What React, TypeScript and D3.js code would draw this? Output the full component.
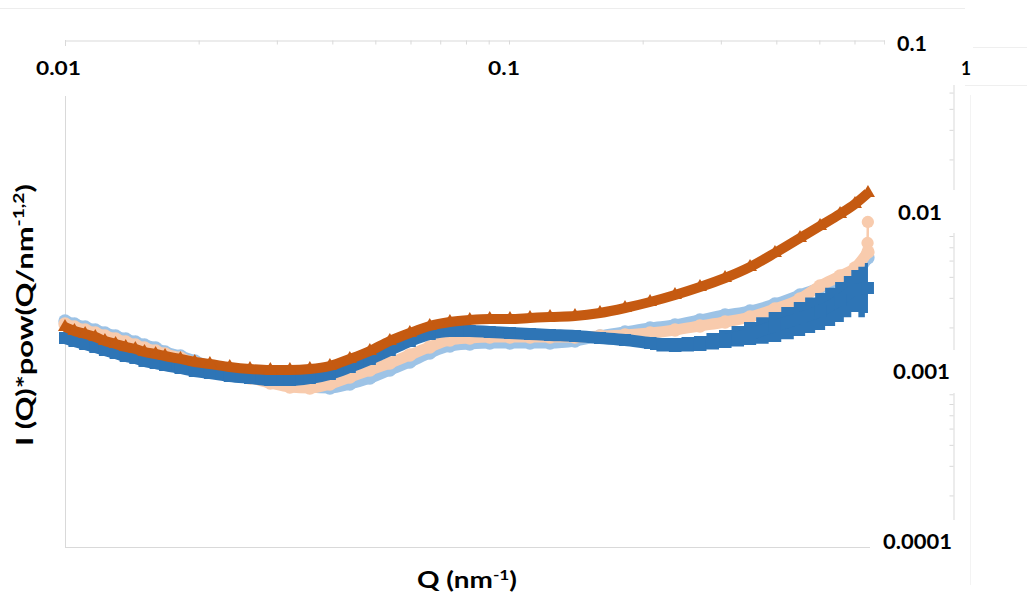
import React, { useEffect, useRef } from 'react';
import * as d3 from 'd3';

// scattering vector Q (nm^-1), shared by the four curves
const qValues = [
  0.0100, 0.0105, 0.0111, 0.0117, 0.0123, 0.0130, 0.0137, 0.0144, 0.0151, 0.0160,
  0.0168, 0.0182, 0.0196, 0.0212, 0.0235, 0.0261, 0.0290, 0.0321, 0.0356, 0.0395,
  0.0438, 0.0486, 0.0539, 0.0598, 0.0663, 0.0736, 0.0816, 0.0905, 0.1005, 0.1115,
  0.1237, 0.1408, 0.1603, 0.1825, 0.2078, 0.2365, 0.2692, 0.3066, 0.3490, 0.3972,
  0.4523, 0.5018, 0.5567, 0.6015, 0.6434,
];

// I(Q)*Q^2 per sample
const orangeValues = [
  0.002012, 0.001905, 0.001828, 0.001754, 0.001661, 0.001594, 0.001530, 0.001488, 0.001428, 0.001390,
  0.001352, 0.001298, 0.001245, 0.001212, 0.001163, 0.001131, 0.001116, 0.001116, 0.001131, 0.001179,
  0.001298, 0.001448, 0.001661, 0.001853, 0.002040, 0.002155, 0.002215, 0.002245, 0.002245, 0.002276,
  0.002308, 0.002339, 0.002438, 0.002610, 0.002834, 0.003120, 0.003480, 0.003938, 0.004579, 0.005547,
  0.006813, 0.008030, 0.009466, 0.010857, 0.012623,
];
const blueValues = [
  0.001730, 0.001661, 0.001594, 0.001530, 0.001468, 0.001409, 0.001352, 0.001316, 0.001263, 0.001228,
  0.001195, 0.001147, 0.001101, 0.001071, 0.001028, 0.001000, 0.000973, 0.000973, 0.001000, 0.001056,
  0.001163, 0.001298, 0.001468, 0.001661, 0.001828, 0.001905, 0.001905, 0.001879, 0.001853, 0.001828,
  0.001803, 0.001779, 0.001730, 0.001684, 0.001616, 0.001572, 0.001594, 0.001684, 0.001828, 0.002040,
  0.002276, 0.002505, 0.002913, 0.003341, 0.003433,
];
const peachValues = [
  0.002097, 0.002012, 0.001931, 0.001853, 0.001779, 0.001707, 0.001638, 0.001572, 0.001509, 0.001448,
  0.001390, 0.001316, 0.001228, 0.001131, 0.001056, 0.001000, 0.000934, 0.000884, 0.000872, 0.000921,
  0.001014, 0.001116, 0.001228, 0.001371, 0.001530, 0.001684, 0.001730, 0.001754, 0.001754, 0.001754,
  0.001754, 0.001754, 0.001779, 0.001803, 0.001853, 0.001931, 0.002040, 0.002155, 0.002308, 0.002575,
  0.002953, 0.003528, 0.004047, 0.004516, 0.005624,
];
const lightBlueValues = [
  0.002185, 0.002097, 0.002012, 0.001931, 0.001853, 0.001779, 0.001707, 0.001638, 0.001572, 0.001509,
  0.001428, 0.001352, 0.001263, 0.001179, 0.001101, 0.001042, 0.000973, 0.000921, 0.000884, 0.000872,
  0.000921, 0.001000, 0.001116, 0.001245, 0.001409, 0.001551, 0.001594, 0.001616, 0.001616, 0.001616,
  0.001616, 0.001661, 0.001779, 0.001879, 0.001985, 0.002068, 0.002215, 0.002372, 0.002505, 0.002757,
  0.003120, 0.003450, 0.003850, 0.004150, 0.005200,
];

// noisy high-Q scatter of the blue sample
const blueSpreadQ = [
  0.2078, 0.2220, 0.2365, 0.2530, 0.2692, 0.2880, 0.3066, 0.3280, 0.3490, 0.3720,
  0.3972, 0.4240, 0.4523, 0.4770, 0.5018, 0.5290, 0.5567, 0.5790, 0.6015, 0.6230, 0.6434,
];
const blueSpreadHigh = [
  0.001754, 0.001730, 0.001730, 0.001754, 0.001779, 0.001853, 0.001931, 0.002040, 0.002155, 0.002300,
  0.002471, 0.002650, 0.002834, 0.003010, 0.003206, 0.003450, 0.003727, 0.004050, 0.004394, 0.004600, 0.004837,
];
const blueSpreadLow = [
  0.001468, 0.001440, 0.001428, 0.001440, 0.001448, 0.001480, 0.001509, 0.001540, 0.001572, 0.001600,
  0.001638, 0.001700, 0.001779, 0.001850, 0.001931, 0.002040, 0.002155, 0.002300, 0.002471, 0.002300, 0.002438,
];

// last points of the peach sample
const peachTailQ = [0.6434, 0.6420, 0.6430];
const peachTailValues = [0.005624, 0.006362, 0.008483];

const xTickLabels = [0.01, 0.1, 1];
const yTickLabels = [0.1, 0.01, 0.001, 0.0001];

const FONT = "Lato, 'Open Sans', sans-serif";

const App = () => {
  const ref = useRef<SVGSVGElement>(null);

  useEffect(() => {
    const svg = d3.select(ref.current);
    svg.selectAll('*').remove();

    const x = d3.scaleLog().domain([0.01, 1]).range([65, 953]);
    const y = d3.scaleLog().domain([0.0001, 0.1]).range([546, 42]);
    const grid = '#d9d9d9';

    // faint page frame pieces
    svg.append('line').attr('x1', 0).attr('x2', 965).attr('y1', 8.5).attr('y2', 8.5).attr('stroke', '#ededed');
    svg.append('line').attr('x1', 973).attr('x2', 1027).attr('y1', 47.5).attr('y2', 47.5).attr('stroke', '#efefef');
    svg.append('line').attr('x1', 965).attr('x2', 1027).attr('y1', 85.5).attr('y2', 85.5).attr('stroke', '#efefef');
    svg.append('line').attr('x1', 970.5).attr('x2', 970.5).attr('y1', 95).attr('y2', 585).attr('stroke', '#f3f3f3');

    // plot frame
    svg.append('line').attr('x1', 65.5).attr('x2', 65.5).attr('y1', 40).attr('y2', 547).attr('stroke', grid);
    svg.append('line').attr('x1', 65).attr('x2', 953).attr('y1', 547.5).attr('y2', 547.5).attr('stroke', grid);

    const top = svg.append('g')
      .attr('transform', 'translate(0,40.5)')
      .call(d3.axisTop(x).tickValues(x.ticks()).tickSize(-4).tickSizeOuter(0).tickFormat(() => ''));
    top.selectAll('path,line').attr('stroke', grid);

    const right = svg.append('g')
      .attr('transform', 'translate(953.5,0)')
      .call(d3.axisRight(y).tickValues(y.ticks()).tickSize(-4).tickSizeOuter(0).tickFormat(() => ''));
    right.selectAll('path,line').attr('stroke', grid);

    const lineFor = (qs: number[]) => d3.line<number>()
      .x((_, i) => x(qs[i]))
      .y(d => y(d))
      .curve(d3.curveMonotoneX);

    const series = [
      { values: lightBlueValues, color: '#9DC3E6', width: 11, symbol: d3.symbolCircle, size: 140 },
      { values: peachValues, color: '#F8CBAD', width: 11, symbol: d3.symbolCircle, size: 140 },
      { values: blueValues, color: '#2E75B6', width: 12, symbol: d3.symbolSquare, size: 144 },
      { values: orangeValues, color: '#C55A11', width: 10, symbol: d3.symbolTriangle, size: 85 },
    ];

    series.forEach(s => {
      const g = svg.append('g');
      if (s.color === '#F8CBAD') {
        g.append('path')
          .attr('d', lineFor(peachTailQ)(peachTailValues))
          .attr('fill', 'none').attr('stroke', s.color).attr('stroke-width', 2.5);
        g.selectAll('path.tail')
          .data(peachTailValues.slice(1))
          .join('path')
          .attr('class', 'tail')
          .attr('transform', (d, i) => `translate(${x(peachTailQ[i + 1])},${y(d)})`)
          .attr('d', d3.symbol().type(d3.symbolCircle).size(120)())
          .attr('fill', s.color);
      }
      if (s.color === '#2E75B6') {
        g.append('path')
          .attr('d', d3.area<number>()
            .x((_, i) => x(blueSpreadQ[i]))
            .y0((_, i) => y(blueSpreadLow[i]))
            .y1(d => y(d))
            .curve(d3.curveStep)(blueSpreadHigh))
          .attr('fill', s.color);
      }
      g.append('path')
        .attr('d', lineFor(qValues)(s.values))
        .attr('fill', 'none')
        .attr('stroke', s.color)
        .attr('stroke-width', s.width);
      g.selectAll('path.mark')
        .data(s.values)
        .join('path')
        .attr('class', 'mark')
        .attr('transform', (d, i) => `translate(${x(qValues[i])},${y(d)})`)
        .attr('d', d3.symbol().type(s.symbol).size(s.size)())
        .attr('fill', s.color);
    });

    // white label boxes laid over the axes
    const boxes = [
      [28, 46, 62, 50], [480, 46, 50, 44], [885, 18, 86, 67],
      [880, 190, 86, 43], [875, 350, 91, 43], [870, 520, 96, 50],
    ];
    boxes.forEach(([bx, by, bw, bh]) => {
      svg.append('rect').attr('x', bx).attr('y', by).attr('width', bw).attr('height', bh).attr('fill', '#fff');
    });

    const fitText = (
      txt: string, cx: number, base: number, size: number, width: number, rotate = false,
    ) => {
      const g = svg.append('g').attr('transform', `translate(${cx},${base})${rotate ? ' rotate(-90)' : ''}`);
      const t = g.append('text')
        .attr('text-anchor', 'middle')
        .attr('font-family', FONT)
        .attr('font-weight', 700)
        .attr('font-size', size)
        .attr('fill', '#000');
      const parts = txt.split('^');
      t.append('tspan').text(parts[0]);
      if (parts.length > 1) {
        t.append('tspan').attr('dy', -size * 0.38).attr('font-size', size * 0.62).text(parts[1]);
        t.append('tspan').attr('dy', size * 0.38).text(parts[2]);
      }
      const len = (t.node() as SVGTextElement).getComputedTextLength();
      t.attr('transform', `scale(${width / len},1)`);
    };

    // x tick labels (top)
    const xNudge = [-6.5, -5, 13];
    const xWidth = [45, 32, 10];
    xTickLabels.forEach((v, i) => fitText(String(v), x(v) + xNudge[i], 75, 19, xWidth[i]));

    // y tick labels (right)
    const yCenter = [912, 920, 921.5, 917.5];
    const yNudge = [9, 10, 1, 3];
    const yWidth = [30, 44, 57, 69];
    yTickLabels.forEach((v, i) => fitText(String(v), yCenter[i], y(v) + yNudge[i], 20, yWidth[i]));

    // axis titles
    fitText('Q (nm^-1^)', 467, 588, 22, 100);
    fitText('I (Q)*pow(Q/nm^-1,2^)', 33, 315, 23, 262, true);
  }, []);

  return (
    <svg
      ref={ref}
      width={1027}
      height={604}
      style={{ position: 'absolute', left: 0, top: 0, background: '#fff', display: 'block' }}
    />
  );
};

export default App;
